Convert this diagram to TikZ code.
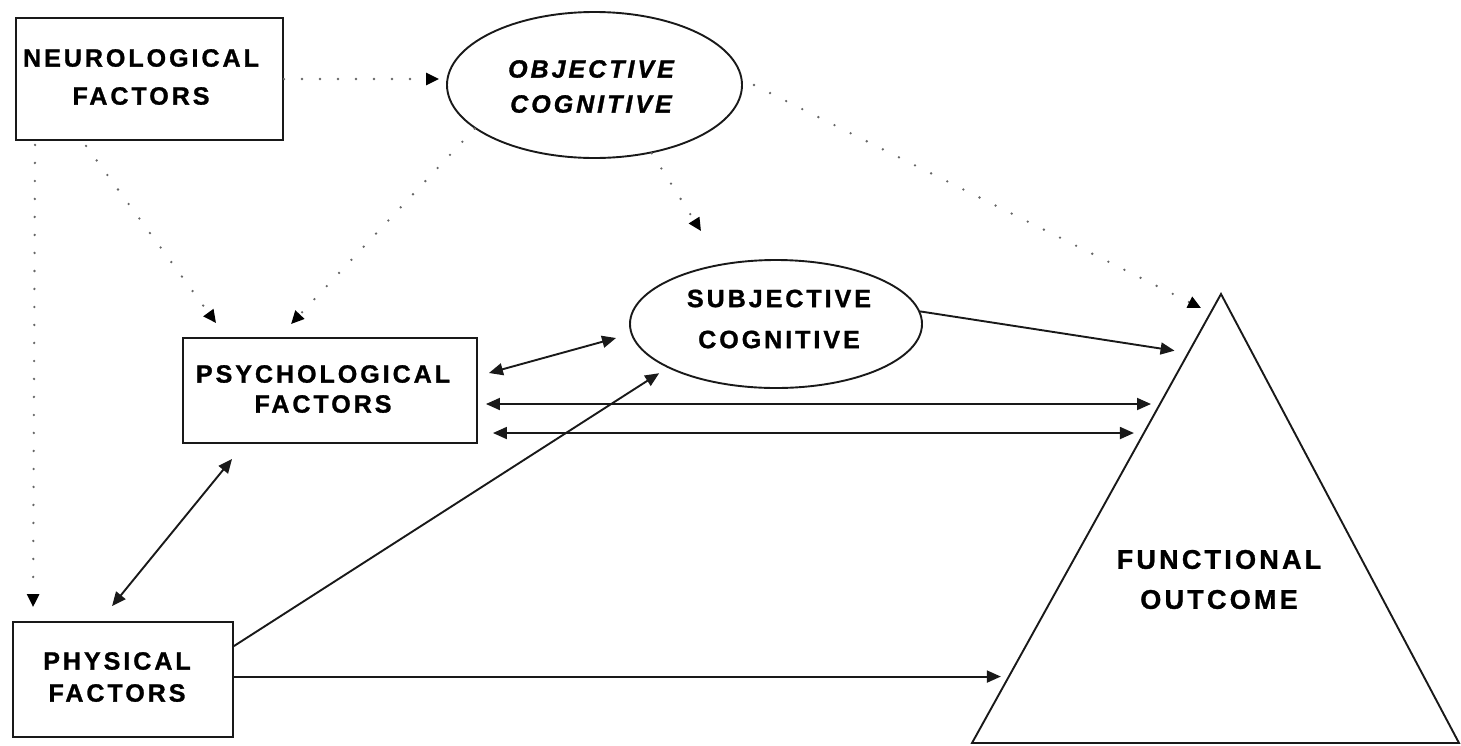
\documentclass[tikz,border=0pt]{standalone}
\usepackage{fontspec}
\newfontfamily\lblfont[LetterSpace=12,
  BoldFont={Liberation Sans Bold},
  BoldItalicFont={Liberation Sans Bold Italic},
  BoldFeatures={FakeBold=1.2},
  BoldItalicFeatures={FakeBold=1.2}]{Liberation Sans}
\usetikzlibrary{arrows.meta,shapes.geometric,calc}
\begin{document}
\begin{tikzpicture}[x=1pt,y=-1pt,
  >={Triangle[length=14pt,width=12pt]},
  ink/.style={draw=black!90, line width=1.9pt},
  box/.style={ink, rectangle, inner sep=0pt},
  oval/.style={ink, ellipse, inner sep=0pt},
  lbl/.style={inner sep=0pt, align=center, text=black},
  link/.style={draw=black!90, line width=1.9pt},
  dotlink/.style={draw=black!60, line width=2.6pt, line cap=round, dash pattern=on 0pt off 18pt,
    -{Triangle[length=13pt,width=12pt,color=black]}},
]
\useasboundingbox (0,0) rectangle (1461,745);

% boxes and ovals
\node[box, minimum width=267pt, minimum height=122pt] (neuro) at (149.5,79) {};
\node[oval, minimum width=295pt, minimum height=146pt] (obj) at (594.5,85) {};
\node[box, minimum width=294pt, minimum height=105pt] (psych) at (330,390.5) {};
\node[oval, minimum width=292pt, minimum height=128pt] (subj) at (776,324) {};
\node[box, minimum width=220pt, minimum height=115pt] (phys) at (123,679.5) {};

% outcome triangle
\coordinate (apex) at (1221,294);
\coordinate (baseL) at (972,743);
\coordinate (baseR) at (1459,743);
\draw[ink, line join=miter] (apex) -- (baseL) -- (baseR) -- cycle;
\path (apex) -- (baseL)
  coordinate[pos=0.131] (eSubj)
  coordinate[pos=0.245] (eHi)
  coordinate[pos=0.3096] (eLo)
  coordinate[pos=0.852] (ePhys);

% labels
\node[lbl, font=\lblfont\bfseries\fontsize{25}{38}\selectfont] (neuroTxt) at (141,77) {NEUROLOGICAL\\FACTORS};
\node[lbl, font=\lblfont\bfseries\itshape\fontsize{25}{35}\selectfont] (objTxt) at (591,86.5) {OBJECTIVE\\COGNITIVE};
\node[lbl, font=\lblfont\bfseries\fontsize{25}{30}\selectfont] (psychTxt) at (323,389) {PSYCHOLOGICAL\\FACTORS};
\node[lbl, font=\lblfont\bfseries\fontsize{25}{41}\selectfont] (subjTxt) at (779,319) {SUBJECTIVE\\COGNITIVE};
\node[lbl, font=\lblfont\bfseries\fontsize{25}{32}\selectfont] (physTxt) at (117,677) {PHYSICAL\\FACTORS};
\node[lbl, font=\lblfont\bfseries\fontsize{27}{40}\selectfont] (funcTxt) at (1219,579.5) {FUNCTIONAL\\OUTCOME};

% dotted influences
\draw[dotlink] (neuro.east) -- ([xshift=-7pt]neuro.east -| obj.west);
\draw[dotlink] ([xshift=20pt,yshift=-4pt]neuro.south west) -- ([xshift=21pt,yshift=14pt]phys.north west);
\draw[dotlink] ([xshift=71pt,yshift=-5pt]neuro.south west) -- ([xshift=34pt,yshift=14pt]psych.north west);
\draw[dotlink] (obj.200) -- ([xshift=109pt,yshift=13pt]psych.north west);
\draw[dotlink] (obj.310) -- ([xshift=-75pt,yshift=28pt]subj.north);
\draw[dotlink] ([xshift=11pt]obj.east) -- ([xshift=-20pt,yshift=-14pt]apex);

% solid influences
\draw[link,->,shorten >=14pt] (subj.5) -- (eSubj);
\draw[link,<->] ([xshift=11pt,yshift=17.5pt]psych.east) -- ([xshift=-13pt,yshift=-14pt]subj.west);
\draw[link,<->,shorten <=8pt,shorten >=9pt] (psych.east |- eHi) -- (eHi);
\draw[link,<->,shorten <=15pt,shorten >=10pt] (psych.east |- eLo) -- (eLo);
\draw[link,->,shorten >=8pt] (phys.east |- ePhys) -- (ePhys);
\draw[link,->,shorten >=10pt] ([yshift=-25pt]phys.north east) -- (subj.202);
\draw[link,<->] ([xshift=50pt,yshift=-15pt]psych.south west) -- ([xshift=100pt,yshift=15pt]phys.north west);
\end{tikzpicture}
\end{document}
